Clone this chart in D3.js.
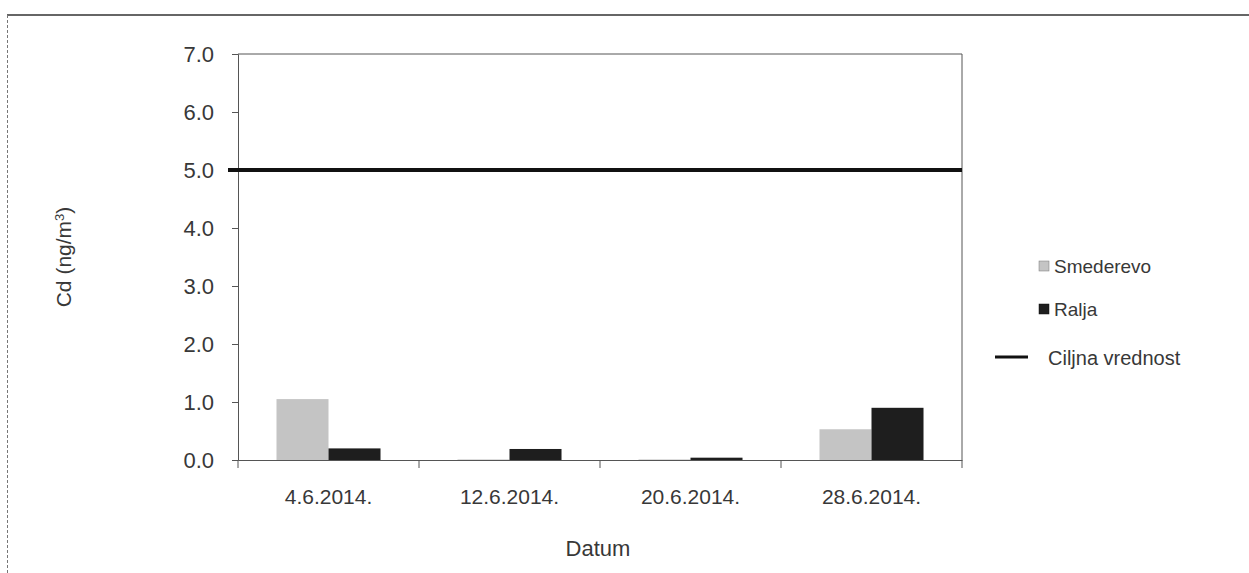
<!DOCTYPE html>
<html>
  <head>
    <meta charset="utf-8">
    <script src="https://cdn.jsdelivr.net/npm/d3@7"></script>
    <style type="text/css">

html, body {
  margin: 0;
  padding: 0;
  background: #fff;
}

svg text {
  font-family: "Liberation Sans", Arial, sans-serif;
  fill: #383838;
}

    </style>
  </head>
  <body>
    <svg id="chart" width="1249" height="573"></svg>
    <script type="text/javascript">

var dates = ["4.6.2014.", "12.6.2014.", "20.6.2014.", "28.6.2014."];
var seriesNames = ["Smederevo", "Ralja"];
var smederevo = [1.05, 0.01, 0.01, 0.53];
var ralja = [0.2, 0.19, 0.04, 0.9];
var target = 5.0;
var yTicks = [0, 1, 2, 3, 4, 5, 6, 7];

var svg = d3.select("#chart");
var colors = {Smederevo: "#c4c4c4", Ralja: "#1e1e1e"};

// outer frame of the scanned figure
svg.append("line")
    .attr("x1", 7).attr("x2", 1249)
    .attr("y1", 15).attr("y2", 15)
    .attr("stroke", "#333")
    .attr("stroke-width", 1.5);
svg.append("line")
    .attr("x1", 7.5).attr("x2", 7.5)
    .attr("y1", 15).attr("y2", 573)
    .attr("stroke", "#777")
    .attr("stroke-width", 1)
    .attr("stroke-dasharray", "3,2");

var margin = {left: 238, right: 962, top: 54, bottom: 460};

var x = d3.scaleBand()
    .domain(dates)
    .range([margin.left, margin.right]);

var y = d3.scaleLinear()
    .domain([0, 7])
    .range([margin.bottom, margin.top]);

var x1 = d3.scaleBand()
    .domain(seriesNames)
    .range([0, x.bandwidth()])
    .paddingInner(0)
    .paddingOuter(0.74);

// plot box (top and right edges)
svg.append("path")
    .attr("d", "M" + margin.left + "," + margin.top + "H" + margin.right + "V" + margin.bottom)
    .attr("fill", "none")
    .attr("stroke", "#555")
    .attr("stroke-width", 1);

// bars
var rows = dates.map(function(d, i) {
  return {date: d, values: [
    {name: "Smederevo", value: smederevo[i]},
    {name: "Ralja", value: ralja[i]}
  ]};
});

svg.append("g").selectAll("g")
    .data(rows)
  .enter().append("g")
    .attr("transform", function(d) { return "translate(" + x(d.date) + ",0)"; })
  .selectAll("rect")
    .data(function(d) { return d.values; })
  .enter().append("rect")
    .attr("x", function(d) { return x1(d.name); })
    .attr("width", x1.bandwidth())
    .attr("y", function(d) { return y(d.value); })
    .attr("height", function(d) { return y(0) - y(d.value); })
    .attr("fill", function(d) { return colors[d.name]; });

// y axis
var yAxis = svg.append("g")
    .attr("transform", "translate(" + margin.left + ",0)")
    .call(d3.axisLeft(y).tickValues(yTicks).tickFormat(d3.format(".1f")).tickSize(6).tickPadding(18));
yAxis.select(".domain").attr("stroke", "#555");
yAxis.selectAll(".tick line").attr("stroke", "#555");
yAxis.selectAll("text")
    .style("font-size", "22px")
    .attr("fill", "#383838");

// x axis
var xAxis = svg.append("g")
    .attr("transform", "translate(0," + margin.bottom + ")")
    .call(d3.axisBottom(x).tickSize(0).tickPadding(29));
xAxis.select(".domain").attr("stroke", "#555");
xAxis.selectAll("text")
    .style("font-size", "21px")
    .attr("fill", "#383838");

// tick marks between categories
svg.append("g").selectAll("line")
    .data(dates.concat(["end"]))
  .enter().append("line")
    .attr("x1", function(d, i) { return margin.left + i * x.step(); })
    .attr("x2", function(d, i) { return margin.left + i * x.step(); })
    .attr("y1", margin.bottom)
    .attr("y2", margin.bottom + 8)
    .attr("stroke", "#555");

// target line
svg.append("line")
    .attr("x1", margin.left - 10)
    .attr("x2", margin.right)
    .attr("y1", y(target))
    .attr("y2", y(target))
    .attr("stroke", "#111")
    .attr("stroke-width", 4);

// axis titles
svg.append("text")
    .attr("x", 598)
    .attr("y", 556)
    .attr("text-anchor", "middle")
    .style("font-size", "22px")
    .text("Datum");

var yTitle = svg.append("text")
    .attr("transform", "translate(71,257) rotate(-90)")
    .attr("text-anchor", "middle")
    .style("font-size", "21px");
yTitle.append("tspan").text("Cd (ng/m");
yTitle.append("tspan").attr("dy", -7).style("font-size", "13px").text("3");
yTitle.append("tspan").attr("dy", 7).text(")");

// legend
var legend = svg.append("g");
var legendRows = [
  {name: "Smederevo", y: 266},
  {name: "Ralja", y: 309}
];
legend.selectAll("rect")
    .data(legendRows)
  .enter().append("rect")
    .attr("x", 1039)
    .attr("y", function(d) { return d.y - 5; })
    .attr("width", 10)
    .attr("height", 10)
    .attr("fill", function(d) { return colors[d.name]; })
    .attr("stroke", function(d) { return d.name == "Smederevo" ? "#777" : "#111"; })
    .attr("stroke-width", 0.5);
legend.selectAll("text")
    .data(legendRows)
  .enter().append("text")
    .attr("x", 1054)
    .attr("y", function(d) { return d.y + 7; })
    .style("font-size", "19px")
    .text(function(d) { return d.name; });

legend.append("line")
    .attr("x1", 995).attr("x2", 1028)
    .attr("y1", 357).attr("y2", 357)
    .attr("stroke", "#111")
    .attr("stroke-width", 3);
legend.append("text")
    .attr("x", 1048)
    .attr("y", 365)
    .style("font-size", "20px")
    .text("Ciljna vrednost");

    </script>
  </body>
</html>
